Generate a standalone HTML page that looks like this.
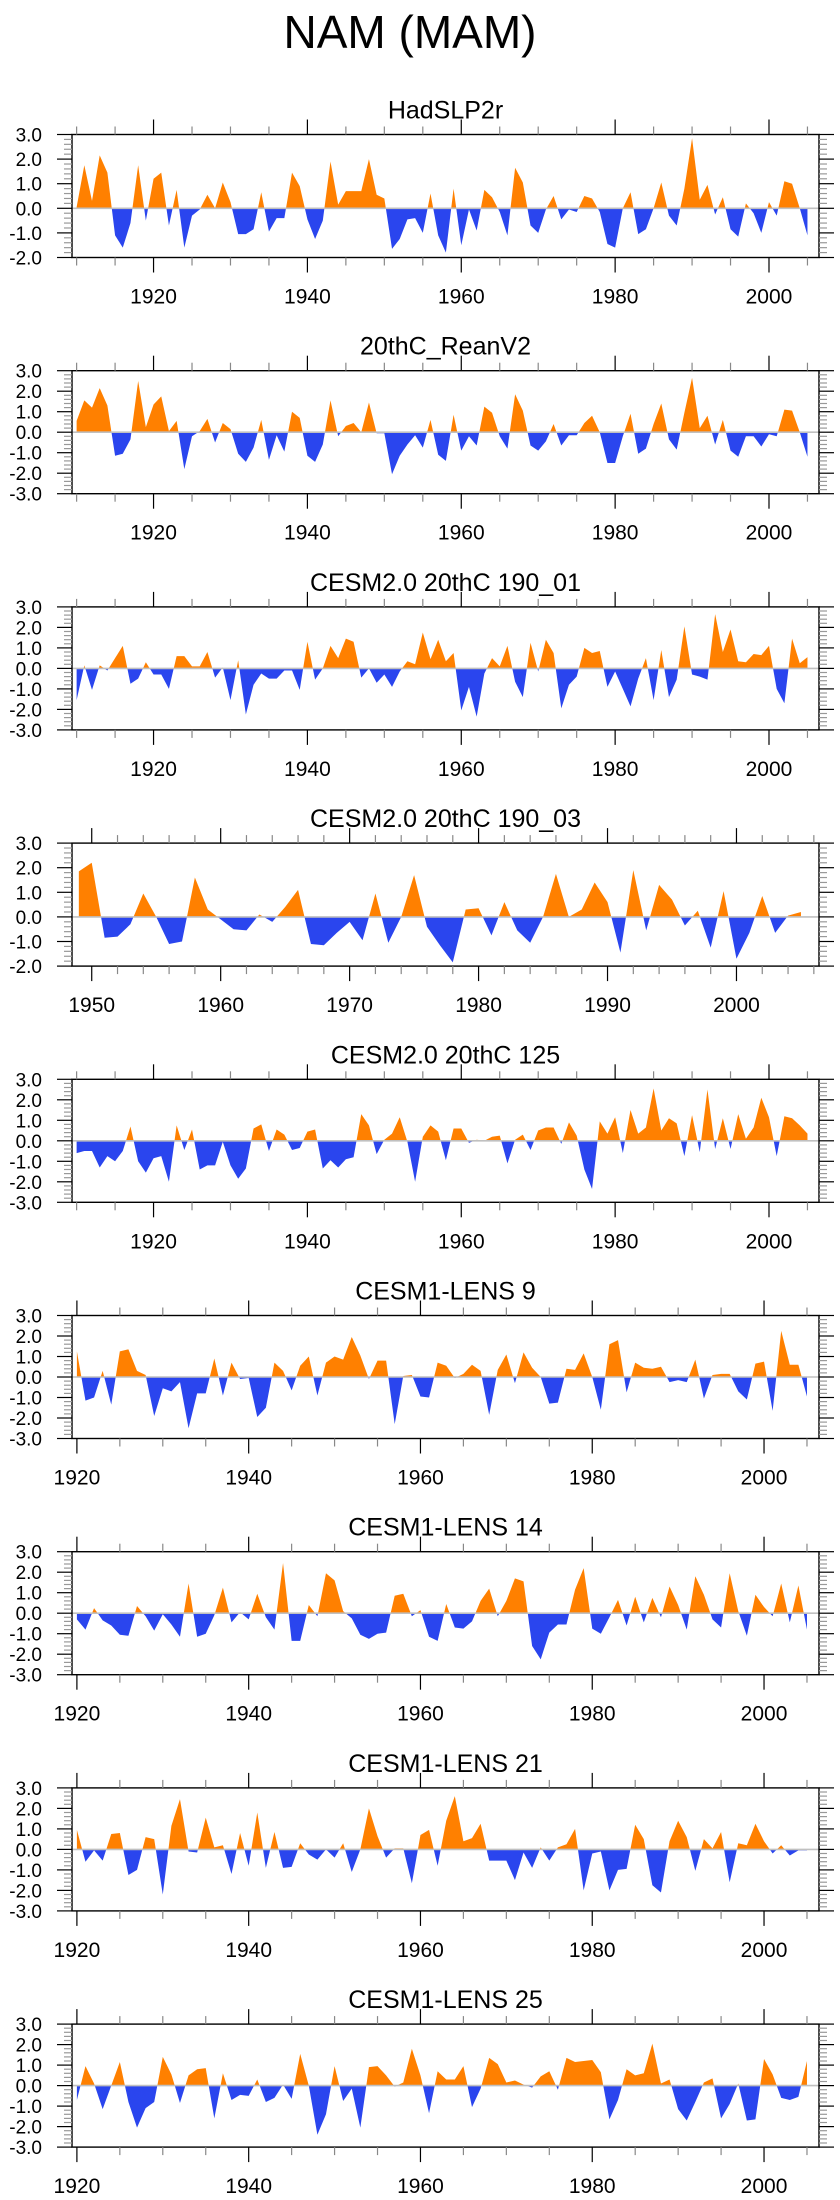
<!DOCTYPE html>
<html><head><meta charset="utf-8"><style>
html,body{margin:0;padding:0;background:#fff}
svg{display:block}
text{font-family:"Liberation Sans",sans-serif;fill:#000}
</style></head><body>
<svg id="chart" width="840" height="2200" viewBox="0 0 840 2200">
<text x="410" y="48" font-size="46" text-anchor="middle">NAM (MAM)</text>
</svg>
<script>
const titles = ["HadSLP2r","20thC_ReanV2","CESM2.0 20thC 190_01","CESM2.0 20thC 190_03","CESM2.0 20thC 125","CESM1-LENS 9","CESM1-LENS 14","CESM1-LENS 21","CESM1-LENS 25"];
const startYears = [1910,1910,1910,1949,1910,1920,1920,1920,1920];
const yMins = [-2,-3,-3,-2,-3,-3,-3,-3,-3];
const yMaxs = [3,3,3,3,3,3,3,3,3];
const hadslp2r = [0.05,1.75,0.3,2.15,1.45,-1.1,-1.6,-0.6,1.75,-0.5,1.2,1.45,-0.7,0.75,-1.6,-0.3,-0.05,0.55,0.0,1.05,0.25,-1.05,-1.05,-0.85,0.65,-0.95,-0.4,-0.4,1.45,0.9,-0.45,-1.25,-0.5,1.9,0.15,0.7,0.7,0.7,2.0,0.55,0.4,-1.65,-1.25,-0.45,-0.4,-1.0,0.6,-1.1,-1.8,0.8,-1.5,-0.05,-0.9,0.75,0.45,-0.15,-1.1,1.65,1.05,-0.7,-1.0,-0.05,0.5,-0.45,-0.05,-0.15,0.5,0.4,-0.15,-1.45,-1.6,0.0,0.65,-1.05,-0.85,0.0,1.05,-0.3,-0.7,0.8,2.85,0.35,0.95,-0.25,0.45,-0.85,-1.15,0.2,-0.2,-1.0,0.25,-0.3,1.1,1.0,0.0,-1.1];
const reanV2 = [0.55,1.55,1.2,2.15,1.3,-1.15,-1.05,-0.35,2.5,0.25,1.35,1.75,0.05,0.55,-1.8,-0.2,0.05,0.65,-0.5,0.45,0.15,-1.05,-1.45,-0.75,0.6,-1.35,-0.15,-0.95,1.0,0.7,-1.15,-1.45,-0.6,1.55,-0.2,0.3,0.45,0.0,1.45,-0.05,-0.05,-2.05,-1.15,-0.6,-0.15,-0.75,0.6,-1.1,-1.4,0.85,-0.9,-0.2,-0.65,1.25,0.95,-0.2,-0.8,1.85,1.05,-0.65,-0.9,-0.45,0.4,-0.65,-0.15,-0.15,0.45,0.8,0.0,-1.5,-1.5,-0.2,0.9,-1.05,-0.8,0.4,1.4,-0.35,-0.85,0.95,2.65,0.2,0.8,-0.6,0.6,-0.9,-1.2,-0.2,-0.2,-0.7,-0.1,-0.2,1.1,1.05,0.0,-1.2];
const cesm2_190_01 = [-1.55,0.15,-1.05,0.15,-0.1,0.5,1.1,-0.75,-0.5,0.3,-0.3,-0.3,-1.0,0.6,0.6,0.1,0.1,0.8,-0.45,0.05,-1.55,0.4,-2.25,-0.8,-0.25,-0.5,-0.5,-0.1,-0.1,-1.05,1.3,-0.55,0.0,1.1,0.5,1.45,1.3,-0.45,0.0,-0.7,-0.3,-0.9,-0.15,0.35,0.2,1.75,0.45,1.4,0.35,0.75,-2.05,-0.9,-2.35,-0.25,0.5,0.1,1.1,-0.65,-1.4,1.25,-0.15,1.4,0.75,-1.95,-0.8,-0.4,1.0,0.75,0.85,-0.9,-0.15,-1.0,-1.85,-0.5,0.5,-1.55,0.9,-1.4,-0.55,2.05,-0.3,-0.4,-0.55,2.65,0.8,1.9,0.35,0.3,0.7,0.65,1.1,-1.0,-1.7,1.45,0.25,0.55];
const cesm2_190_03 = [1.85,2.2,-0.85,-0.8,-0.3,0.95,0.0,-1.1,-1.0,1.6,0.3,-0.1,-0.5,-0.55,0.1,-0.2,0.4,1.1,-1.1,-1.15,-0.65,-0.2,-0.95,0.95,-1.05,0.0,1.7,-0.4,-1.15,-1.85,0.3,0.35,-0.75,0.6,-0.55,-1.05,0.0,1.75,0.0,0.3,1.4,0.6,-1.45,1.9,-0.55,1.3,0.7,-0.35,0.25,-1.25,1.05,-1.7,-0.65,0.85,-0.65,0.05,0.2];
const cesm2_125 = [-0.6,-0.5,-0.5,-1.3,-0.75,-1.0,-0.5,0.7,-1.0,-1.55,-0.85,-0.75,-2.0,0.75,-0.45,0.55,-1.4,-1.2,-1.2,-0.05,-1.2,-1.85,-1.35,0.6,0.8,-0.5,0.55,0.3,-0.45,-0.35,0.45,0.55,-1.35,-0.95,-1.3,-0.9,-0.8,1.3,0.75,-0.65,0.05,0.35,1.15,-0.05,-2.0,0.2,0.75,0.45,-0.95,0.6,0.6,-0.1,0.05,0.0,0.2,0.25,-1.1,0.05,0.3,-0.45,0.5,0.65,0.65,-0.15,0.9,0.25,-1.4,-2.35,0.95,0.35,1.15,-0.6,1.5,0.35,0.65,2.55,0.5,1.1,0.85,-0.75,1.25,-0.55,2.5,-0.4,1.1,-0.4,1.3,0.1,0.65,2.1,1.15,-0.75,1.2,1.1,0.75,0.35];
const lens9 = [1.25,-1.15,-1.0,0.3,-1.35,1.25,1.35,0.3,0.1,-1.9,-0.55,-0.7,-0.25,-2.5,-0.8,-0.8,0.9,-0.9,0.7,-0.1,-0.05,-1.95,-1.5,0.7,0.3,-0.65,0.55,1.0,-0.9,0.7,1.0,0.85,1.95,1.05,-0.1,0.8,0.8,-2.3,0.05,0.1,-0.95,-1.0,0.7,0.55,-0.05,0.15,0.6,0.3,-1.85,0.35,1.1,-0.3,1.2,0.45,0.0,-1.3,-1.25,0.4,0.35,1.15,0.0,-1.6,1.6,1.8,-0.75,0.7,0.45,0.4,0.5,-0.25,-0.15,-0.25,0.85,-1.05,0.1,0.15,0.15,-0.7,-1.1,0.65,0.75,-1.65,2.25,0.6,0.6,-0.95];
const lens14 = [-0.3,-0.8,0.25,-0.35,-0.6,-1.05,-1.1,0.35,-0.15,-0.85,-0.05,-0.55,-1.15,1.45,-1.15,-1.0,-0.1,1.25,-0.45,0.05,-0.3,0.95,-0.2,-0.8,2.45,-1.35,-1.35,0.4,-0.15,1.95,1.6,0.1,-0.25,-1.05,-1.25,-1.0,-0.95,0.85,0.95,-0.15,0.15,-1.15,-1.35,0.45,-0.7,-0.75,-0.4,0.6,1.2,-0.15,0.6,1.7,1.55,-1.6,-2.25,-0.95,-0.55,-0.55,1.15,2.2,-0.75,-1.0,-0.2,0.65,-0.6,0.8,-0.45,0.75,-0.2,1.3,0.4,-0.8,1.8,0.9,-0.3,-0.7,1.95,0.1,-1.1,0.9,0.3,-0.15,1.45,-0.45,1.35,-0.8];
const lens21 = [0.95,-0.6,-0.05,-0.55,0.75,0.8,-1.25,-1.0,0.6,0.5,-2.2,1.15,2.45,-0.1,-0.15,1.55,0.1,0.2,-1.2,0.8,-0.8,1.8,-0.9,0.85,-0.9,-0.85,0.3,-0.25,-0.5,0.0,-0.4,0.3,-1.1,0.0,2.0,0.65,-0.4,0.05,0.05,-1.65,0.7,0.95,-0.8,1.4,2.6,0.4,0.55,1.25,-0.55,-0.55,-0.55,-1.5,-0.15,-0.9,0.1,-0.55,0.1,0.25,1.0,-2.0,-0.2,-0.1,-2.0,-1.0,-0.95,1.2,0.5,-1.75,-2.1,0.4,1.4,0.6,-1.05,0.5,0.05,0.85,-1.6,0.3,0.2,1.25,0.4,-0.2,0.2,-0.3,-0.05,-0.05];
const lens25 = [-0.7,0.95,0.1,-1.15,0.0,1.15,-0.8,-2.05,-1.1,-0.8,1.4,0.55,-0.85,0.5,0.8,0.85,-1.6,0.6,-0.7,-0.45,-0.5,0.3,-0.8,-0.6,0.05,-0.65,1.55,0.0,-2.4,-1.4,0.95,-0.75,-0.15,-2.05,0.9,0.95,0.5,-0.05,0.15,1.8,0.5,-1.35,0.7,0.3,0.3,0.95,-1.05,-0.15,1.35,1.05,0.15,0.25,0.05,-0.1,0.45,0.7,-0.2,1.35,1.15,1.2,1.25,0.65,-1.65,-0.7,0.8,0.5,0.6,2.05,0.1,0.3,-1.15,-1.7,-0.8,0.15,0.35,-1.6,-0.9,0.1,-1.7,-1.65,1.3,0.55,-0.6,-0.7,-0.55,1.2];
const seriesList = [hadslp2r,reanV2,cesm2_190_01,cesm2_190_03,cesm2_125,lens9,lens14,lens21,lens25];

const NS = "http://www.w3.org/2000/svg";
const svg = document.getElementById('chart');
const PL = 72, PR = 819, PH = 123;
function mk(tag, attrs, parent){const e=document.createElementNS(NS,tag);for(const k in attrs)e.setAttribute(k,attrs[k]);(parent||svg).appendChild(e);return e;}

seriesList.forEach(function(vals, i){
  const top = 134.5 + 236.2*i, bot = top + PH;
  const y0 = startYears[i];
  let xMin, xMax, majStep, minStep, majStart;
  if (i === 3) { xMin = 1948.47; xMax = 2006.4; majStep = 10; minStep = 2; majStart = 1950; }
  else if (i >= 5) { xMin = 1919.43; xMax = 2006.4; majStep = 20; minStep = 5; majStart = 1920; }
  else { xMin = 1909.4; xMax = 2006.5; majStep = 20; minStep = 5; majStart = 1920; }
  const ymin = yMins[i], ymax = yMaxs[i];
  const xs = function(yr){ return PL + (yr - xMin)/(xMax - xMin)*(PR-PL); };
  const ys = function(v){ return bot - (v - ymin)/(ymax - ymin)*PH; };
  const g = mk('g', {});
  
  
  const t = mk('text', {x:(PL+PR)/2, y: top-16, 'font-size':25, 'text-anchor':'middle'}, g);
  t.textContent = titles[i];
  
  
  let d = 'M' + xs(y0).toFixed(2) + ',' + ys(0).toFixed(2);
  vals.forEach(function(v,k){ d += ' L' + xs(y0+k).toFixed(2) + ',' + ys(v).toFixed(2); });
  d += ' L' + xs(y0+vals.length-1).toFixed(2) + ',' + ys(0).toFixed(2) + 'Z';
  const cpA = mk('clipPath', {id:'ca'+i}, g); mk('rect', {x:PL, y:top, width:PR-PL, height:ys(0)-top}, cpA);
  const cpB = mk('clipPath', {id:'cb'+i}, g); mk('rect', {x:PL, y:ys(0), width:PR-PL, height:bot-ys(0)}, cpB);
  const pa = mk('path', {d:d, fill:'#ff8000', 'clip-path':'url(#ca'+i+')'}, g);
  
  
  const pb = mk('path', {d:d, fill:'#2a45ee', 'clip-path':'url(#cb'+i+')'}, g);
  
  
  const zl = mk('line', {x1:PL, x2:PR, y1:ys(0), y2:ys(0), stroke:'#c0c0c0', 'stroke-width':1.6}, g);
  
  
  const fr = mk('rect', {x:PL, y:top, width:PR-PL, height:PH, fill:'none', stroke:'#000', 'stroke-width':1.4}, g);
  
  
  for (let yr = Math.ceil(xMin/minStep)*minStep; yr <= xMax; yr += minStep) {
    const x = xs(yr);
    const major = ((yr - majStart) % majStep) === 0;
    const L = major ? 15 : 8, col = major ? '#000' : '#888';
    mk('line', {x1:x, x2:x, y1:top, y2:top-L, stroke:col, 'stroke-width':1.2}, g);
    mk('line', {x1:x, x2:x, y1:bot, y2:bot+L, stroke:col, 'stroke-width':1.2}, g);
    if (major) {
      const lt = mk('text', {x:x, y:bot+46, 'font-size':21, 'text-anchor':'middle'}, g);
      lt.textContent = yr;
      
      
    }
  }
  for (let k = 0; k <= (ymax-ymin)*5; k++) {
    const v = ymin + k*0.2, y = ys(v);
    const major = (k % 5) === 0;
    const L = major ? 15 : 8, col = major ? '#000' : '#999';
    mk('line', {x1:PL, x2:PL-L, y1:y, y2:y, stroke:col, 'stroke-width':1.2}, g);
    mk('line', {x1:PR, x2:PR+L, y1:y, y2:y, stroke:col, 'stroke-width':1.2}, g);
    if (major) {
      const yl = mk('text', {x:42, y:y+7, 'font-size':19, 'text-anchor':'end'}, g);
      yl.textContent = Math.round(v).toFixed(1);
      
      
    }
  }
});
</script>
</body></html>
